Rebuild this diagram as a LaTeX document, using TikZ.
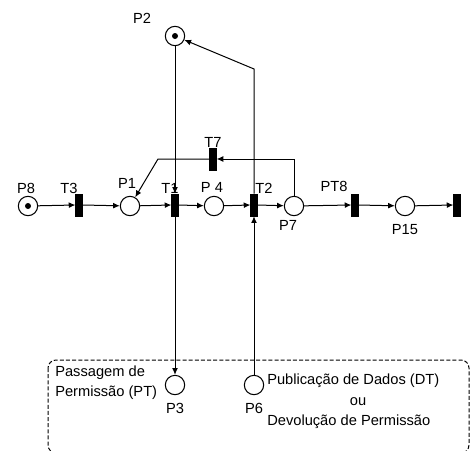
\documentclass[tikz,border=0pt]{standalone}
\usepackage{fontspec}
\setmainfont{Liberation Sans}
\usetikzlibrary{arrows.meta}
\begin{document}
\begin{tikzpicture}[x=0.75pt,y=-0.75pt,
  place/.style={circle,draw,line width=0.8pt,minimum size=14.5pt,inner sep=0pt},
  tok/.style={circle,fill,inner sep=0pt,minimum size=4.5pt},
  trans/.style={rectangle,fill=black,draw=black,minimum width=5pt,minimum height=16.5pt,inner sep=0pt},
  lbl/.style={inner sep=0pt,font=\fontsize{11}{13}\selectfont},
  arr/.style={line width=0.75pt,-{Latex[length=5pt,width=4.4pt]}},
  ln/.style={line width=0.75pt}]
\useasboundingbox (0,0) rectangle (470,450);
% places
\node[place] (P8) at (28,206) {};
\node[tok] at (P8) {};
\node[place] (P2) at (175,36) {};
\node[tok] at (P2) {};
\node[place] (P1) at (130,206) {};
\node[place] (P4) at (214,206) {};
\node[place] (P7) at (294,206) {};
\node[place] (P15) at (405,206) {};
\node[place] (P3) at (175,385) {};
\node[place] (P6) at (254,385) {};
% transitions
\node[trans] (T3) at (79,205) {};
\node[trans] (T1) at (175,205) {};
\node[trans] (T2) at (254,205) {};
\node[trans] (PT8) at (355,205) {};
\node[trans] (TF) at (457,205) {};
\node[trans] (T7) at (213,159) {};
% helper coordinates
\coordinate (c1) at (158,159);
\coordinate (c2) at (254,69);
% arcs of main row
\draw[arr] (P8) -- (T3.west);
\draw[arr] (T3.east) -- (P1);
\draw[arr] (P1) -- (T1.west);
\draw[arr] (T1.east) -- (P4);
\draw[arr] (P4) -- (T2.west);
\draw[arr] (T2.east) -- (P7);
\draw[arr] (P7) -- (PT8.west);
\draw[arr] (PT8.east) -- (P15);
\draw[arr] (P15) -- (TF.west);
% feedback arcs
\draw[arr] (P7.north) |- (T7.east);
\draw[arr] (T7.west) -- (c1) -- (P1);
\draw[arr] (T2.north) -- (c2) -- (P2);
\draw[arr] (P2) -- (T1.north);
\draw[arr] (T1.south) -- (P3);
\draw[arr] (P6) -- (T2.south);
% dashed region
\draw[ln,dash pattern=on 3pt off 1.6pt,rounded corners=6pt] (48,360) rectangle (469,453);
% labels
\node[lbl] at (142,18) {P2};
\node[lbl] at (26,188) {P8};
\node[lbl] at (69,188) {T3};
\node[lbl] at (127,183) {P1};
\node[lbl] at (170,188) {T1};
\node[lbl] at (212,187) {P 4};
\node[lbl] at (264,188) {T2};
\node[lbl] at (213,142) {T7};
\node[lbl] at (288,225) {P7};
\node[lbl] at (334,186) {PT8};
\node[lbl] at (405,230) {P15};
\node[lbl] at (175,408) {P3};
\node[lbl] at (254,408) {P6};
\node[lbl,anchor=west] at (55,373) {Passagem de};
\node[lbl,anchor=west] at (55,393) {Permissão (PT)};
\node[lbl,anchor=west] at (267,381) {Publicação de Dados (DT)};
\node[lbl] at (358,402) {ou};
\node[lbl,anchor=west] at (267,422) {Devolução de Permissão};
\end{tikzpicture}
\end{document}
